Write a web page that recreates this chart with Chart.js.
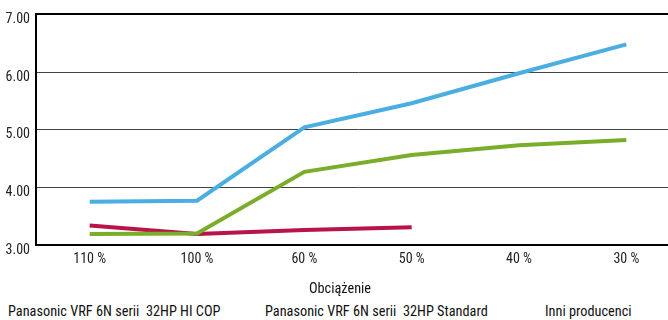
<!DOCTYPE html>
<html>
<head>
<meta charset="utf-8">
<script src="https://cdn.jsdelivr.net/npm/chart.js@4"></script>
<style>
  html, body { margin: 0; padding: 0; background: #fff; overflow: hidden; width: 668px; height: 320px; }
  #wrap { position: absolute; left: 0; top: 0; width: 680px; height: 302px; }
  #legend { position: absolute; left: 0; top: 303px; width: 668px; height: 17px;
            font: 14.3px 'Roboto Condensed', sans-serif; color: #111; white-space: pre; }
  #legend span { position: absolute; top: 0; }
</style>
</head>
<body>
<div id="wrap"><canvas id="chart"></canvas></div>
<div id="legend"></div>
<script>
const categories = ["110 %", "100 %", "60 %", "50 %", "40 %", "30 %"];
const seriesNames = [
    "Panasonic VRF 6N serii  32HP HI COP",
    "Panasonic VRF 6N serii  32HP Standard",
    "Inni producenci"
];
const hiCop = [3.75, 3.77, 5.04, 5.46, 5.98, 6.48];
const standard = [3.19, 3.20, 4.27, 4.56, 4.73, 4.82];
const others = [3.34, 3.19, 3.26, 3.31, null, null];
const seriesColors = ["#4aaee3", "#7aad2a", "#b8134a"];
const legendLeft = [8, 265, 545];

const font = "'Roboto Condensed', sans-serif";

const makeSet = (i, data) => ({
    label: seriesNames[i],
    data: data,
    borderColor: seriesColors[i],
    backgroundColor: seriesColors[i],
    borderWidth: 4,
    pointRadius: 0,
    tension: 0,
    fill: false
});

// legend as plain text, no colour boxes (like the original)
const legend = document.getElementById("legend");
seriesNames.forEach((name, i) => {
    const span = document.createElement("span");
    span.textContent = name;
    span.style.left = legendLeft[i] + "px";
    legend.appendChild(span);
});

new Chart("chart", {
    type: "line",
    data: {
        labels: categories,
        datasets: [makeSet(0, hiCop), makeSet(1, standard), makeSet(2, others)]
    },
    options: {
        responsive: true,
        maintainAspectRatio: false,
        animation: false,
        layout: { padding: { left: 0, right: 0, top: 10, bottom: 0 } },
        plugins: {
            tooltip: { enabled: false },
            legend: { display: false },
            title: {
                display: true,
                position: "bottom",
                text: "Obciążenie",
                color: "#111",
                padding: { top: 7, bottom: 4 },
                font: { family: font, size: 14.3, weight: "normal" }
            }
        },
        scales: {
            x: {
                offset: true,
                grid: { display: false, drawTicks: false },
                border: { color: "#000", width: 2 },
                ticks: { color: "#222", padding: 6, font: { family: font, size: 14 } }
            },
            y: {
                min: 3,
                max: 7,
                afterFit: (scale) => { scale.width = 36; },
                grid: {
                    color: (c) => c.tick && c.tick.value === 7 ? "#000" : "#444",
                    lineWidth: (c) => c.tick && c.tick.value === 7 ? 2 : 1,
                    drawTicks: false
                },
                border: { color: "#000", width: 2 },
                ticks: {
                    stepSize: 1,
                    color: "#222",
                    padding: 6,
                    labelOffset: 5,
                    font: { family: font, size: 14 },
                    callback: (v) => Number(v).toFixed(2)
                }
            }
        }
    }
});
</script>
</body>
</html>
